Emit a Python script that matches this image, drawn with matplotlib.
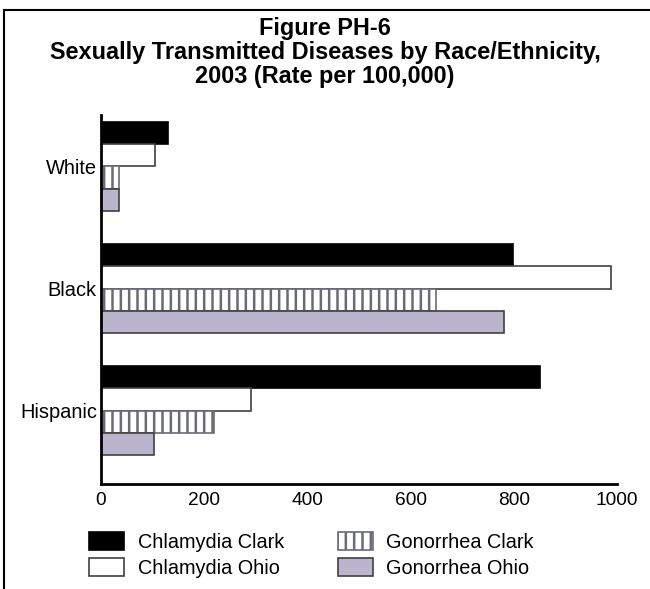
import matplotlib
matplotlib.use("Agg")
import matplotlib.pyplot as plt
from matplotlib.patches import Patch
from matplotlib.lines import Line2D
import numpy as np

plt.rcParams['font.family'] = ['Liberation Sans', 'DejaVu Sans']
plt.rcParams['hatch.linewidth'] = 1.8

categories = ["White", "Black", "Hispanic"]
series_names = ["Chlamydia Clark", "Chlamydia Ohio", "Gonorrhea Clark", "Gonorrhea Ohio"]
chlamydia_clark = [130, 798, 851]
chlamydia_ohio = [105, 988, 290]
gonorrhea_clark = [35, 649, 219]
gonorrhea_ohio = [35, 781, 103]
x_ticks = [0, 200, 400, 600, 800, 1000]

series = [chlamydia_clark, chlamydia_ohio, gonorrhea_clark, gonorrhea_ohio]
styles = [
    dict(color="black", edgecolor="black", hatch=None),
    dict(color="white", edgecolor="#404040", hatch=None),
    dict(color="white", edgecolor="#6a6a7a", hatch="||"),
    dict(color="#bab4cc", edgecolor="#404040", hatch=None),
]

fig = plt.figure(figsize=(6.5, 5.89), dpi=100)
ax = fig.add_axes([101/650, (589-484)/589, (617-101)/650, (484-115)/589])

h = 0.184
pos = np.arange(len(categories))
for i, (vals, st) in enumerate(zip(series, styles)):
    y = pos + (i - 1.5) * h
    ax.barh(y, vals, height=h, facecolor=st["color"], edgecolor=st["edgecolor"],
            hatch=st["hatch"], linewidth=1.2, label=series_names[i])

ax.set_xlim(0, 1000)
ax.set_ylim(2.602, -0.422)
ax.set_xticks(x_ticks)
ax.set_xticklabels([str(t) for t in x_ticks], fontsize=13.8)
ax.set_yticks(pos)
ax.set_yticklabels(categories, fontsize=14.4)
ax.tick_params(axis='x', length=0, pad=6)
ax.tick_params(axis='y', length=0, pad=3)
for s in ["top", "right"]:
    ax.spines[s].set_visible(False)
for s in ["left", "bottom"]:
    ax.spines[s].set_linewidth(2)
    ax.spines[s].set_color("black")

title_lines = ["Figure PH-6", "Sexually Transmitted Diseases by Race/Ethnicity,", "2003 (Rate per 100,000)"]
for k, line in enumerate(title_lines):
    fig.text(0.5, 1 - (28 + 24 * k)/589, line, ha="center", va="center", fontsize=16.9, fontweight="bold")

# frame lines (left and top)
fig.add_artist(Line2D([4/650, 4/650], [0, 1 - 10/589], color="black", linewidth=1.5, transform=fig.transFigure))
fig.add_artist(Line2D([4/650, 1], [1 - 10/589, 1 - 10/589], color="black", linewidth=1.5, transform=fig.transFigure))

handles = [Patch(facecolor=st["color"], edgecolor=st["edgecolor"], hatch=st["hatch"], linewidth=1.2)
           for st in styles]
fig.legend(handles, series_names, loc="center left", bbox_to_anchor=(71/650, 1 - 555/589),
           ncol=2, frameon=False, fontsize=14.3, handlelength=1.76, handleheight=1.0,
           handletextpad=0.7, columnspacing=2.7, labelspacing=0.3)

fig.savefig("out.png", dpi=100)
